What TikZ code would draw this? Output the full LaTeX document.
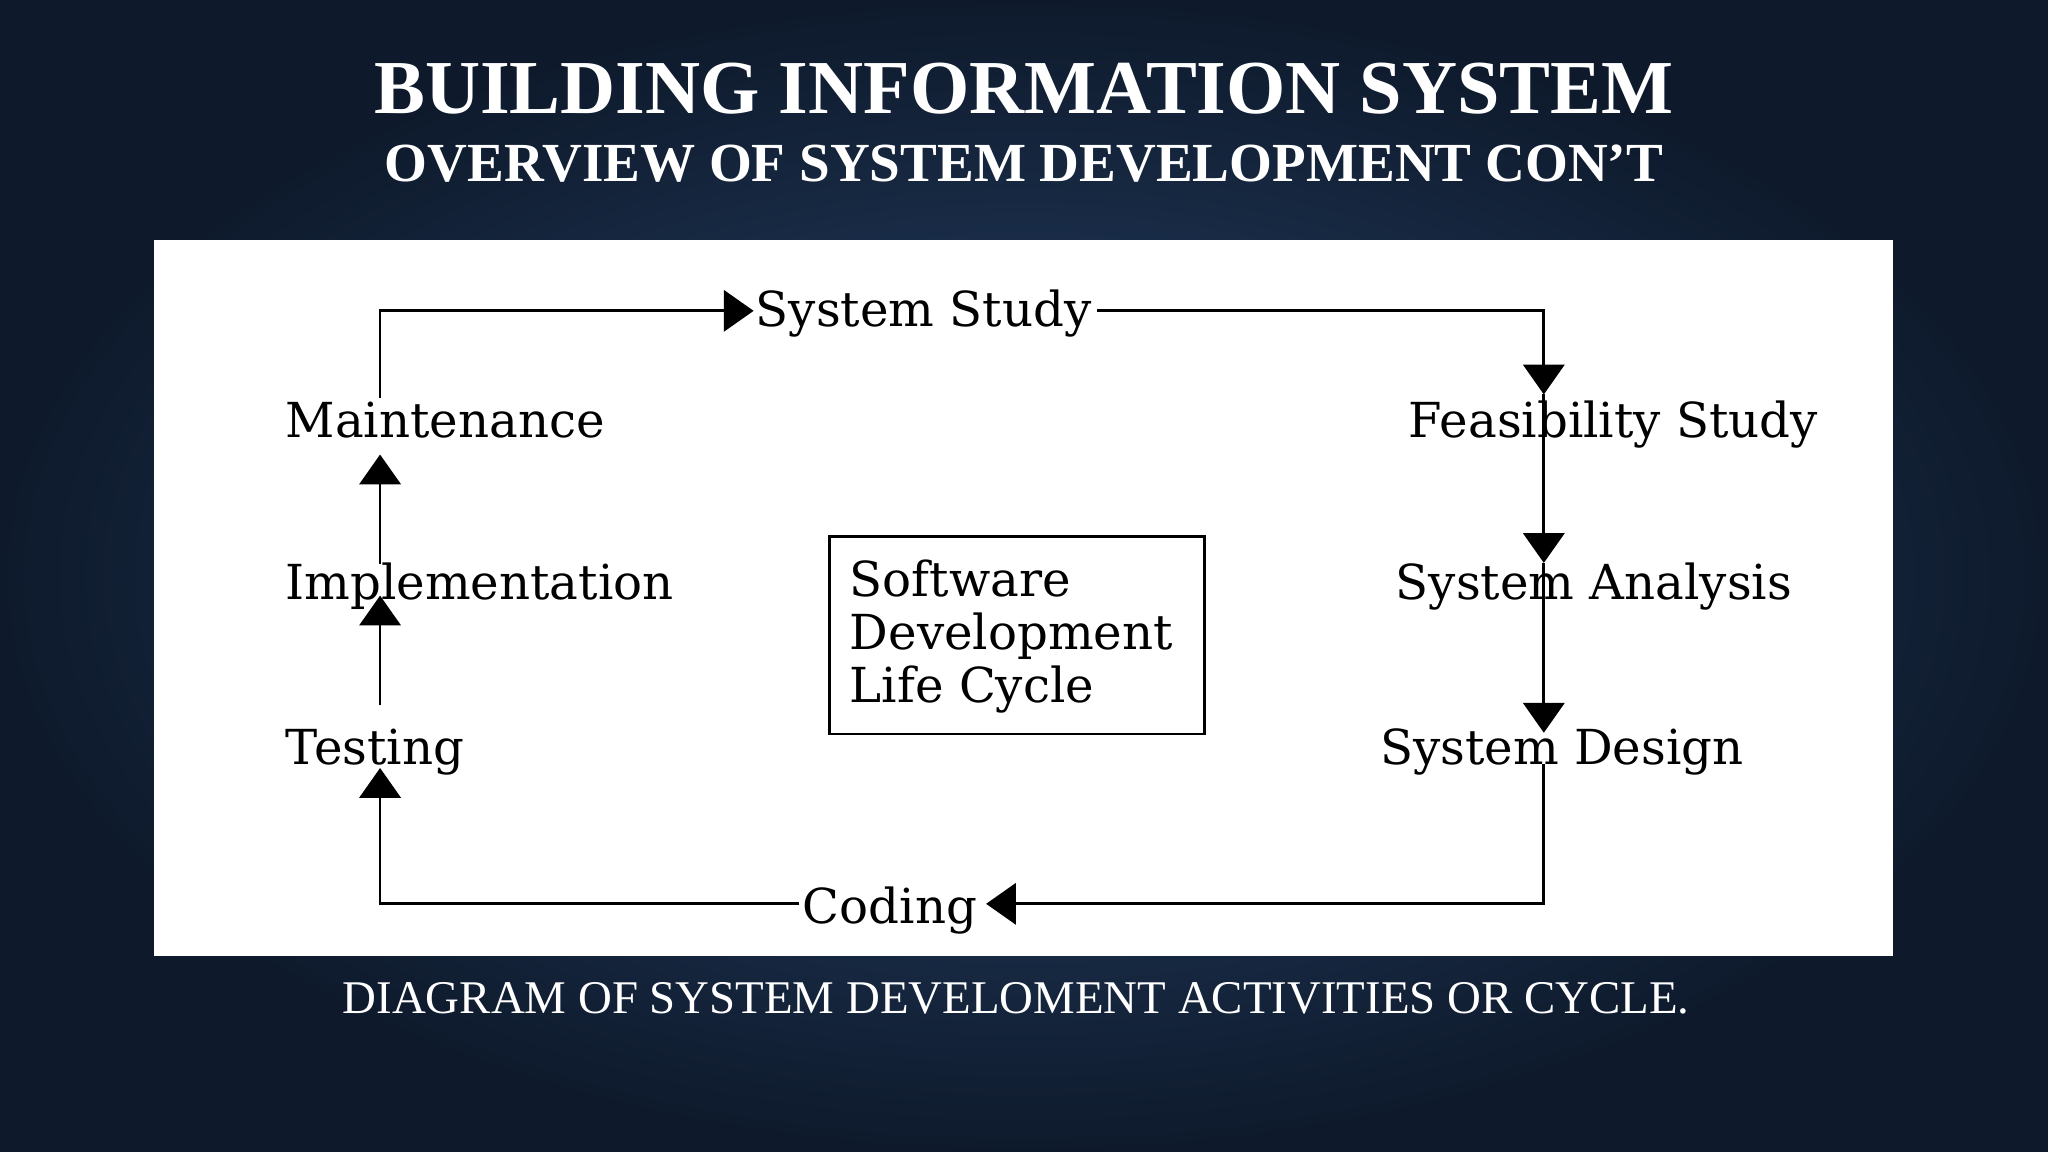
\documentclass[tikz,border=0pt]{standalone}
\usepackage{fontspec}
\setmainfont{Liberation Serif}
\newfontfamily\dfont{DejaVu Serif}
\usetikzlibrary{arrows.meta}
\begin{document}
\begin{tikzpicture}[x=0.01cm,y=-0.01cm,
  lbl/.style={anchor=base west,inner sep=0pt,font=\dfont\fontsize{10.5}{13}\selectfont},
  ln/.style={line width=0.6pt,black},
  arr/.style={ln,-{Triangle[width=9pt,length=6.5pt]}}]
\useasboundingbox (0,0) rectangle (1568,882);
\shade[inner color={rgb,255:red,40;green,68;blue,108},outer color={rgb,255:red,14;green,26;blue,44}] (0,0) rectangle (1568,882);
\node[font=\bfseries\fontsize{16.6}{20}\selectfont,text=white] (t1) at (784,68) {BUILDING INFORMATION SYSTEM};
\node[font=\bfseries\fontsize{12}{16}\selectfont,text=white] (t2) at (784,125) {OVERVIEW OF SYSTEM DEVELOPMENT CON’T};
\node[font=\fontsize{10.2}{13}\selectfont,text=white] (cap) at (778,764) {DIAGRAM OF SYSTEM DEVELOMENT ACTIVITIES OR CYCLE.};
\fill[white] (118,184) rectangle (1449,732);
\node[lbl] (ss) at (578,250) {System Study};
\node[lbl] (fs) at (1078,335) {Feasibility Study};
\node[lbl] (sa) at (1068,459) {System Analysis};
\node[lbl] (sd) at (1056,585) {System Design};
\node[lbl] (cd) at (614,707) {Coding};
\node[lbl] (ts) at (218,585) {Testing};
\node[lbl] (im) at (218,459) {Implementation};
\node[lbl] (mt) at (218,335) {Maintenance};
\draw[ln] (635,411) rectangle (922,562);
\node[lbl,anchor=north west,align=left,font=\dfont\fontsize{10.5}{11.5}\selectfont] (bt) at (650,428) {Software\\Development\\Life Cycle};
\coordinate (a1) at (291,305); \coordinate (a2) at (291,238); \coordinate (a3) at (577,238);
\draw[arr] (a1) -- (a2) -- (a3);
\coordinate (b1) at (840,238); \coordinate (b2) at (1182,238); \coordinate (b3) at (1182,302);
\draw[arr] (b1) -- (b2) -- (b3);
\coordinate (c1) at (1182,302); \coordinate (c2) at (1182,431);
\draw[arr] (c1) -- (c2);
\coordinate (d1) at (1182,431); \coordinate (d2) at (1182,561);
\draw[arr] (d1) -- (d2);
\coordinate (e1) at (1182,585); \coordinate (e2) at (1182,692); \coordinate (e3) at (755,692);
\draw[arr] (e1) -- (e2) -- (e3);
\coordinate (f1) at (612,692); \coordinate (f2) at (291,692); \coordinate (f3) at (291,588);
\draw[arr] (f1) -- (f2) -- (f3);
\coordinate (g1) at (291,540); \coordinate (g2) at (291,456);
\draw[arr] (g1) -- (g2);
\coordinate (h1) at (291,432); \coordinate (h2) at (291,348);
\draw[arr] (h1) -- (h2);
\end{tikzpicture}
\end{document}
